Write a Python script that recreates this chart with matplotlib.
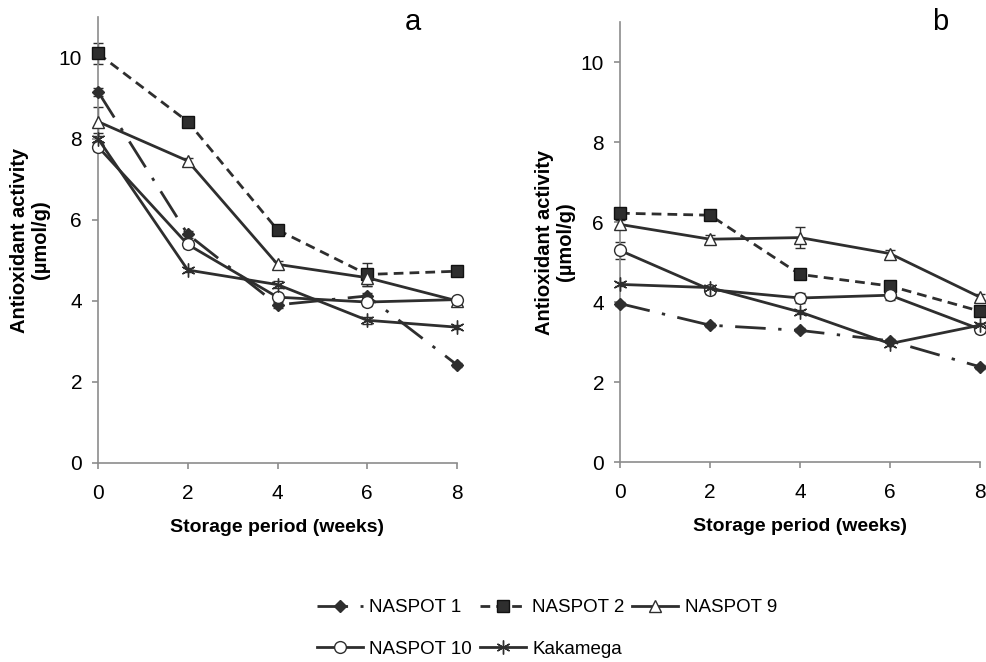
import matplotlib
matplotlib.use("Agg")
import matplotlib.pyplot as plt

plt.rcParams['font.family'] = ['Liberation Sans', 'DejaVu Sans']

weeks = [0, 2, 4, 6, 8]
series_names = ["NASPOT 1", "NASPOT 2", "NASPOT 9", "NASPOT 10", "Kakamega"]

# Panel a
a_naspot1 = [9.16, 5.64, 3.90, 4.12, 2.42]
a_naspot2 = [10.10, 8.42, 5.75, 4.65, 4.73]
a_naspot9 = [8.42, 7.45, 4.90, 4.57, 4.00]
a_naspot10 = [7.80, 5.39, 4.09, 3.97, 4.03]
a_kakamega = [8.00, 4.76, 4.40, 3.52, 3.35]
a_err_naspot1 = [0.10, 0.08, 0.08, 0.08, 0.05]
a_err_naspot2 = [0.25, 0.08, 0.08, 0.28, 0.05]
a_err_naspot9 = [0.35, 0.08, 0.08, 0.20, 0.05]
a_err_naspot10 = [0.10, 0.08, 0.08, 0.10, 0.05]
a_err_kakamega = [0.15, 0.05, 0.08, 0.08, 0.05]

# Panel b
b_naspot1 = [3.96, 3.42, 3.29, 3.03, 2.38]
b_naspot2 = [6.22, 6.17, 4.69, 4.40, 3.77]
b_naspot9 = [5.94, 5.57, 5.61, 5.21, 4.12]
b_naspot10 = [5.29, 4.31, 4.10, 4.17, 3.32]
b_kakamega = [4.44, 4.36, 3.75, 2.96, 3.42]
b_err_naspot1 = [0.05, 0.05, 0.05, 0.05, 0.05]
b_err_naspot2 = [0.08, 0.08, 0.08, 0.08, 0.08]
b_err_naspot9 = [0.10, 0.10, 0.27, 0.08, 0.08]
b_err_naspot10 = [0.22, 0.10, 0.12, 0.12, 0.10]
b_err_kakamega = [0.05, 0.05, 0.05, 0.05, 0.05]

yticks = [0, 2, 4, 6, 8, 10]
xticks = [0, 2, 4, 6, 8]

LC = '#2e2e2e'
SP = '#8c8c8c'

styles = [
    dict(marker='D', markersize=6, mfc=LC, mec=LC, dashes=(11, 4.5, 1.2, 4.5)),
    dict(marker='s', markersize=8.5, mfc=LC, mec='#111111', dashes=(3.5, 2.2)),
    dict(marker='^', markersize=8.5, mfc='white', mec=LC, dashes=None),
    dict(marker='o', markersize=8.5, mfc='white', mec=LC, dashes=None),
    dict(marker=(6, 2, 0), markersize=10, mfc=LC, mec=LC, dashes=None),
]

fig = plt.figure(figsize=(9.87, 6.62), dpi=100)
axA = fig.add_axes([98/987, 1-463/662, 359/987, 446/662])
axB = fig.add_axes([620/987, 1-462/662, 360/987, 440/662])

panels = [
    (axA, [a_naspot1, a_naspot2, a_naspot9, a_naspot10, a_kakamega],
     [a_err_naspot1, a_err_naspot2, a_err_naspot9, a_err_naspot10, a_err_kakamega]),
    (axB, [b_naspot1, b_naspot2, b_naspot9, b_naspot10, b_kakamega],
     [b_err_naspot1, b_err_naspot2, b_err_naspot9, b_err_naspot10, b_err_kakamega]),
]

handles = []
for ax, data, errs in panels:
    for i, (vals, er) in enumerate(zip(data, errs)):
        st = styles[i]
        ax.errorbar(weeks, vals, yerr=er, fmt='none', ecolor=LC, elinewidth=1.0,
                    capsize=3.5, capthick=1.0, clip_on=False, zorder=2)
        ln, = ax.plot(weeks, vals, color=LC, lw=2.0, marker=st['marker'],
                      markersize=st['markersize'], markerfacecolor=st['mfc'],
                      markeredgecolor=st['mec'], markeredgewidth=1.0,
                      clip_on=False, zorder=3, label=series_names[i])
        if st['dashes'] is not None:
            ln.set_dashes(st['dashes'])
        if ax is axA:
            handles.append(ln)
    ax.set_xlim(0, 8)
    ax.set_ylim(0, 11)
    ax.set_xticks(xticks)
    ax.set_yticks(yticks)
    for s in ['top', 'right']:
        ax.spines[s].set_visible(False)
    for s in ['left', 'bottom']:
        ax.spines[s].set_color(SP)
        ax.spines[s].set_linewidth(1.2)
    ax.tick_params(axis='both', direction='out', color=SP, width=1.2, length=4.5,
                   labelsize=15, labelcolor='black')
    ax.tick_params(axis='x', pad=10.5)
    ax.tick_params(axis='y', pad=7)
    ax.set_xlabel('Storage period (weeks)', fontsize=14, fontweight='bold')
    ax.set_ylabel('Antioxidant activity\n(µmol/g)', fontsize=14.5, fontweight='bold',
                  linespacing=1.1)

axA.xaxis.set_label_coords(0.5, -0.126)
axB.xaxis.set_label_coords(0.5, -0.128)
axA.yaxis.set_label_coords(-0.135, 0.5)
axB.yaxis.set_label_coords(-0.125, 0.5)

fig.text(413/987, 1-22/662, 'a', fontsize=21, ha='center', va='center')
fig.text(940/987, 1-22/662, 'b', fontsize=21, ha='center', va='center')

order = [0, 3, 1, 4, 2]
leg = fig.legend([handles[i] for i in order], [series_names[i] for i in order],
                 loc='upper left', bbox_to_anchor=(317/987, 1-599/662), ncol=3,
                 frameon=False, fontsize=13.5, handlelength=2.45, handletextpad=0.35,
                 columnspacing=0.4, labelspacing=1.3, borderpad=0, borderaxespad=0)

fig.savefig('out.png', dpi=100)
